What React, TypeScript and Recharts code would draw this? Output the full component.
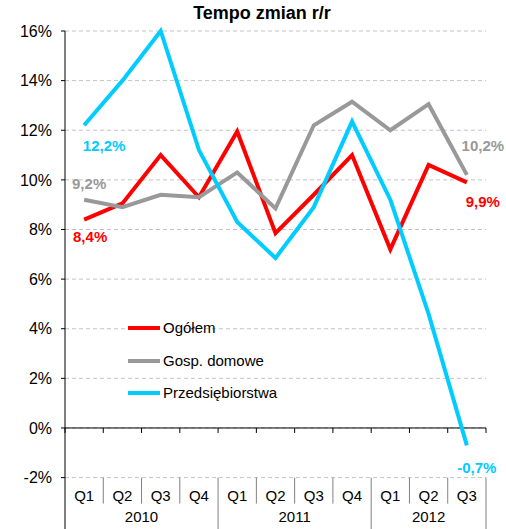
import React from 'react';
import {
  ComposedChart,
  Line,
  XAxis,
  YAxis,
  CartesianGrid,
  ReferenceLine,
  Legend,
  LabelList,
} from 'recharts';

const quarters = ['Q1', 'Q2', 'Q3', 'Q4', 'Q1', 'Q2', 'Q3', 'Q4', 'Q1', 'Q2', 'Q3'];
const years = ['2010', '2010', '2010', '2010', '2011', '2011', '2011', '2011', '2012', '2012', '2012'];
const ogolem = [8.4, 9.05, 11.0, 9.3, 11.95, 7.85, 9.4, 11.0, 7.2, 10.6, 9.9];
const gospDomowe = [9.2, 8.9, 9.4, 9.3, 10.3, 8.85, 12.2, 13.15, 12.0, 13.05, 10.2];
const przedsiebiorstwa = [12.2, 14.0, 16.0, 11.2, 8.3, 6.85, 8.9, 12.35, 9.2, 4.6, -0.7];
const yTicks = [-2, 0, 2, 4, 6, 8, 10, 12, 14, 16];
const seriesNames = ['Ogółem', 'Gosp. domowe', 'Przedsiębiorstwa'];

const FONT = '"Liberation Sans", Arial, sans-serif';
const RED = '#ff0000';
const GRAY = '#999999';
const CYAN = '#00ccff';

const data = quarters.map((q, i) => ({
  key: `${years[i]}-${q}`,
  quarter: q,
  year: years[i],
  ogolem: ogolem[i],
  gosp: gospDomowe[i],
  przed: przedsiebiorstwa[i],
}));

const fmt = (v: number) => `${v.toFixed(1).replace('.', ',')}%`;

const makeEndLabel =
  (color: string, first: [number, number], last: [number, number]) => (props: any) => {
    const { x, y, value, index } = props;
    if (index !== 0 && index !== data.length - 1) return null;
    const [dx, dy] = index === 0 ? first : last;
    return (
      <text
        x={x + dx}
        y={y + dy}
        textAnchor="middle"
        fill={color}
        fontWeight="bold"
        fontSize={15}
        fontFamily={FONT}
      >
        {fmt(Number(value))}
      </text>
    );
  };

const QuarterTick = (props: any) => {
  const { x, y, payload, width } = props;
  const i: number = payload.index;
  const half: number =
    typeof payload.offset === 'number' && payload.offset > 0
      ? payload.offset
      : width / quarters.length / 2;
  const left = x - half;
  const isYearStart = i === 0 || years[i] !== years[i - 1];
  const isLast = i === quarters.length - 1;
  let yearLabel: React.ReactNode = null;
  if (isYearStart) {
    let count = 0;
    for (let k = i; k < years.length && years[k] === years[i]; k++) count++;
    yearLabel = (
      <text
        x={left + count * half}
        y={y + 44}
        textAnchor="middle"
        fontSize={15}
        fontFamily={FONT}
        fill="#000"
      >
        {years[i]}
      </text>
    );
  }
  return (
    <g>
      <line
        x1={left}
        x2={left}
        y1={y}
        y2={isYearStart ? y + 52 : y + 26}
        stroke={i === 0 ? '#000' : '#808080'}
        strokeWidth={1}
      />
      {isLast && (
        <line x1={x + half} x2={x + half} y1={y} y2={y + 52} stroke="#808080" strokeWidth={1} />
      )}
      <text x={x} y={y + 23} textAnchor="middle" fontSize={15} fontFamily={FONT} fill="#000">
        {quarters[i]}
      </text>
      {yearLabel}
    </g>
  );
};

const ZeroLine = (props: any) => {
  const { x1, x2, y1 } = props;
  const n = quarters.length;
  const step = (x2 - x1) / n;
  const ticks = [];
  for (let i = 0; i <= n; i++) {
    const tx = x1 + i * step;
    ticks.push(<line key={i} x1={tx} x2={tx} y1={y1} y2={y1 + 5} stroke="#000" strokeWidth={1} />);
  }
  return (
    <g>
      <line x1={x1} x2={x2} y1={y1} y2={y1} stroke="#000" strokeWidth={1} />
      {ticks}
    </g>
  );
};

const LegendContent = (props: any) => {
  const payload = [...(props.payload || [])].sort(
    (a: any, b: any) => seriesNames.indexOf(a.value) - seriesNames.indexOf(b.value)
  );
  return (
    <div style={{ fontFamily: FONT, fontSize: 15, color: '#000' }}>
      {payload.map((entry: any) => (
        <div
          key={entry.value}
          style={{ display: 'flex', alignItems: 'center', height: 32.5, lineHeight: '32.5px' }}
        >
          <span
            style={{
              display: 'inline-block',
              width: 32,
              height: 4,
              background: entry.color,
              marginRight: 3,
            }}
          />
          <span>{entry.value}</span>
        </div>
      ))}
    </div>
  );
};

export default function App() {
  return (
    <div style={{ position: 'absolute', left: 0, top: 0, width: 506, height: 529, background: '#fff' }}>
      <div
        style={{
          position: 'absolute',
          left: 0,
          width: 524,
          top: 2,
          textAlign: 'center',
          fontFamily: FONT,
          fontWeight: 'bold',
          fontSize: 18,
          lineHeight: '22px',
          color: '#000',
        }}
      >
        Tempo zmian r/r
      </div>
      <ComposedChart
        width={506}
        height={529}
        data={data}
        margin={{ top: 31, right: 20, bottom: 0, left: 0 }}
      >
        <CartesianGrid vertical={false} stroke="#c4c4c4" strokeDasharray="4 3" />
        <XAxis
          dataKey="key"
          scale="band"
          axisLine={false}
          tickLine={false}
          tickSize={0}
          tickMargin={0}
          height={51.4}
          interval={0}
          tick={<QuarterTick />}
        />
        <YAxis
          domain={[-2, 16]}
          ticks={yTicks}
          interval={0}
          width={65}
          tickSize={4}
          tickMargin={9}
          axisLine={{ stroke: '#000' }}
          tickLine={{ stroke: '#000' }}
          tickFormatter={(v: number) => `${v}%`}
          tick={{ fill: '#000', fontSize: 16, fontFamily: FONT }}
        />
        <ReferenceLine y={0} shape={<ZeroLine />} />
        <Legend
          layout="vertical"
          verticalAlign="middle"
          align="center"
          content={<LegendContent />}
          wrapperStyle={{ position: 'absolute', left: 128, top: 312, width: 200, height: 98 }}
        />
        <Line
          name="Ogółem"
          dataKey="ogolem"
          stroke={RED}
          strokeWidth={4}
          dot={false}
          isAnimationActive={false}
        >
          <LabelList dataKey="ogolem" content={makeEndLabel(RED, [6, 22], [16, 25])} />
        </Line>
        <Line
          name="Gosp. domowe"
          dataKey="gosp"
          stroke={GRAY}
          strokeWidth={4}
          dot={false}
          isAnimationActive={false}
        >
          <LabelList dataKey="gosp" content={makeEndLabel(GRAY, [5, -11], [16, -24])} />
        </Line>
        <Line
          name="Przedsiębiorstwa"
          dataKey="przed"
          stroke={CYAN}
          strokeWidth={4}
          dot={false}
          isAnimationActive={false}
        >
          <LabelList dataKey="przed" content={makeEndLabel(CYAN, [20, 26], [10, 28])} />
        </Line>
      </ComposedChart>
    </div>
  );
}
